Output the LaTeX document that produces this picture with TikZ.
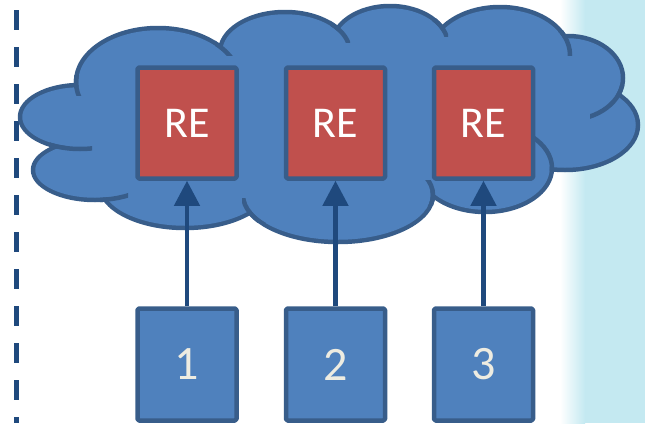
\documentclass[tikz,border=0pt]{standalone}
\usepackage{fontspec}
\setmainfont{Carlito}
\usetikzlibrary{arrows.meta}
\definecolor{cloudfill}{HTML}{4F81BD}
\definecolor{cloudline}{HTML}{385D8A}
\definecolor{refill}{HTML}{C0504D}
\definecolor{arrowc}{HTML}{1F497D}
\definecolor{skyc}{HTML}{C4E9F1}
\definecolor{numtext}{HTML}{EEECE1}
\begin{document}
\begin{tikzpicture}[x=1pt,y=-1pt,line join=round,
  rebox/.style={draw=cloudline, fill=refill, line width=4.5pt, rounded corners=1.5pt, minimum width=99pt, minimum height=111pt, inner sep=0pt, text=white, font=\fontsize{44}{44}\selectfont},
  numbox/.style={draw=cloudline, fill=cloudfill, line width=4.5pt, rounded corners=1.5pt, minimum width=99pt, minimum height=112pt, inner sep=0pt, text=numtext, font=\fontsize{48}{48}\selectfont},
  link/.style={draw=arrowc, line width=4.5pt, -{Triangle[length=25pt,width=25pt]}},
  divider/.style={draw=arrowc, line width=5pt, dash pattern=on 20pt off 17pt},
  innerarc/.style={draw=cloudline, line width=4.5pt}]
\useasboundingbox (0,0) rectangle (645,423);
% sky background on the right
\fill[skyc] (584,0) rectangle (645,423);
\shade[left color=white, right color=skyc] (560,0) rectangle (585,423);
% dashed divider
\coordinate (dtop) at (16,10);
\coordinate (dbot) at (16,423);
\draw[divider] (dtop) -- (dbot);
% cloud: outline band
\foreach \cx/\cy/\rx/\ry in {80/117/60/32, 95/170/62/30, 185/185/85/43, 338/195/95/47, 485/168/67/44, 565/125/73/45, 568/78/55/42, 500/55/70/48, 390/45/58/39, 285/52/65/40, 158/82/82/54}
  \fill[cloudline] (\cx,\cy) ellipse [x radius=\rx pt+2.25pt, y radius=\ry pt+2.25pt];
\foreach \cx/\cy/\rx/\ry in {80/117/60/32, 95/170/62/30, 185/185/85/43, 338/195/95/47, 485/168/67/44, 565/125/73/45, 568/78/55/42, 500/55/70/48, 390/45/58/39, 285/52/65/40, 158/82/82/54}
  \fill[cloudfill] (\cx,\cy) ellipse [x radius=\rx pt-2.25pt, y radius=\ry pt-2.25pt];
\fill[cloudfill] (80,117) -- (95,170) -- (185,185) -- (338,195) -- (485,168) -- (565,125) -- (568,78) -- (500,55) -- (390,45) -- (285,52) -- (158,82) -- cycle;
% inner arcs of the cloud
\begin{scope}\clip (215,30) rectangle (245,55); \draw[innerarc] (158,82) ellipse [x radius=82pt, y radius=54pt];\end{scope}
\begin{scope}\clip (330,20) rectangle (350,42); \draw[innerarc] (285,52) ellipse [x radius=65pt, y radius=40pt];\end{scope}
\begin{scope}\clip (432,18) rectangle (448,36); \draw[innerarc] (390,45) ellipse [x radius=58pt, y radius=39pt];\end{scope}
\begin{scope}\clip (558,30) rectangle (575,55); \draw[innerarc] (500,55) ellipse [x radius=70pt, y radius=48pt];\end{scope}
\begin{scope}\clip (590,85) rectangle (625,118); \draw[innerarc] (568,78) ellipse [x radius=55pt, y radius=42pt];\end{scope}
\begin{scope}\clip (528,128) rectangle (556,170); \draw[innerarc] (485,168) ellipse [x radius=67pt, y radius=44pt];\end{scope}
\begin{scope}\clip (425,180) rectangle (440,205); \draw[innerarc] (338,195) ellipse [x radius=95pt, y radius=47pt];\end{scope}
\begin{scope}\clip (242,198) rectangle (268,222); \draw[innerarc] (338,195) ellipse [x radius=95pt, y radius=47pt];\end{scope}
\begin{scope}\clip (100,185) rectangle (128,205); \draw[innerarc] (95,170) ellipse [x radius=62pt, y radius=30pt];\end{scope}
\begin{scope}\clip (50,135) rectangle (92,155); \draw[innerarc] (80,117) ellipse [x radius=60pt, y radius=32pt];\end{scope}
\begin{scope}\clip (70,75) rectangle (85,95); \draw[innerarc] (158,82) ellipse [x radius=82pt, y radius=54pt];\end{scope}
% RE boxes
\node[rebox] (re1) at (187,123) {RE};
\node[rebox] (re2) at (335.5,123) {RE};
\node[rebox] (re3) at (483.5,123) {RE};
% numbered boxes
\node[numbox] (n1) at (187,364.5) {1};
\node[numbox] (n2) at (335.5,364.5) {2};
\node[numbox] (n3) at (483.5,364.5) {3};
% arrows
\draw[link] (n1.north) -- (re1.south);
\draw[link] (n2.north) -- (re2.south);
\draw[link] (n3.north) -- (re3.south);
\end{tikzpicture}
\end{document}
